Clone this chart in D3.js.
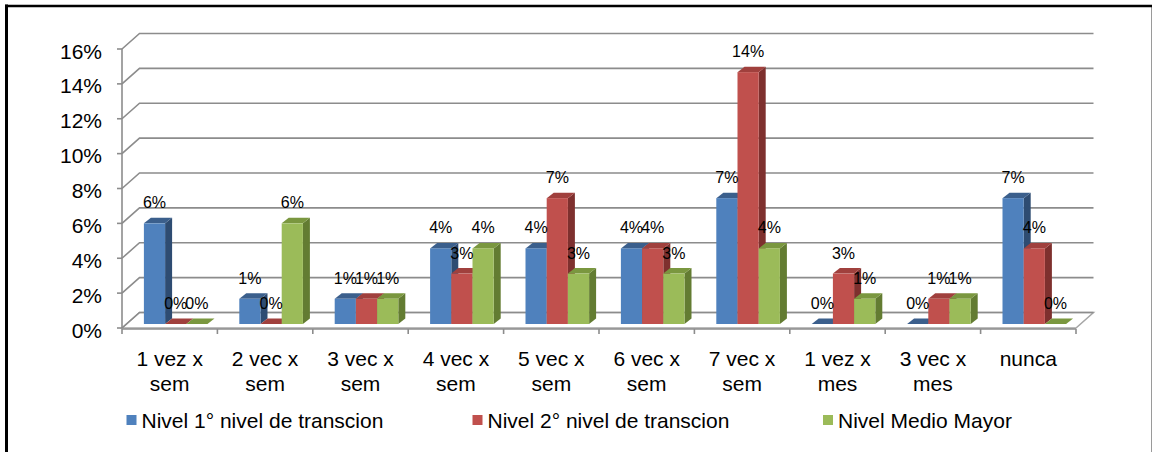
<!DOCTYPE html>
<html>
<head>
<meta charset="utf-8">
<script src="https://cdn.jsdelivr.net/npm/d3@7"></script>
<style>
  html, body { margin: 0; padding: 0; background: #fff; }
  svg { display: block; font-family: "Liberation Sans", Arial, sans-serif; }
</style>
</head>
<body>
<svg id="chart" width="1154" height="452"></svg>
<script>
// Frequency categories (x axis)
const categories = [
  "1 vez x sem", "2 vec x sem", "3 vec x sem", "4 vec x sem", "5 vec x sem",
  "6 vec x sem", "7 vec x sem", "1 vez x mes", "3 vec x mes", "nunca"
];
// Series names (legend)
const seriesNames = [
  "Nivel 1° nivel de transcion",
  "Nivel 2° nivel de transcion",
  "Nivel Medio Mayor"
];
// Share of students per category, one array per series
const nivel1 = [0.0571, 0.0143, 0.0143, 0.0429, 0.0429, 0.0429, 0.0714, 0, 0, 0.0714];
const nivel2 = [0, 0, 0.0143, 0.0286, 0.0714, 0.0429, 0.1429, 0.0286, 0.0143, 0.0429];
const medioMayor = [0, 0.0571, 0.0143, 0.0429, 0.0286, 0.0286, 0.0429, 0.0143, 0.0143, 0];
// Value axis ticks
const yTicks = [0, 0.02, 0.04, 0.06, 0.08, 0.10, 0.12, 0.14, 0.16];

const seriesValues = [nivel1, nivel2, medioMayor];
const palette = [
  { front: "#4F81BD", top: "#3B5F8C", side: "#2E4C72" },
  { front: "#C0504D", top: "#A0403D", side: "#7E302E" },
  { front: "#9BBB59", top: "#7A973F", side: "#637C32" }
];

const svg = d3.select("#chart");
const pct = d3.format(".0%");

// frame
svg.append("rect").attr("x", 7).attr("y", 6.5).attr("width", 1144.5).attr("height", 460)
  .attr("fill", "#fff").attr("stroke", "#9a9a9a").attr("stroke-width", 1);
svg.append("line").attr("x1", 6.5).attr("x2", 6.5).attr("y1", 4.5).attr("y2", 452)
  .attr("stroke", "#000").attr("stroke-width", 3);
svg.append("line").attr("x1", 5).attr("x2", 1152).attr("y1", 6).attr("y2", 6)
  .attr("stroke", "#000").attr("stroke-width", 2.5);

// plot geometry
const left = 122, right = 1076, floorY = 328;
const depthX = 17.5, depthY = 15.5;   // back wall offset
const barDX = 7, barDY = 5.5;         // bar depth (side / top faces)
const barShift = 6;                   // bars sit slightly behind the front edge

const x0 = d3.scaleBand().domain(categories).range([left, right]).paddingInner(0).paddingOuter(0);
const x1 = d3.scaleBand().domain(d3.range(seriesNames.length)).range([0, x0.bandwidth()])
  .paddingInner(0).paddingOuter(0.75);
// front-edge value scale (axis) and bar plane scale
const yAxisScale = d3.scaleLinear().domain([0, 0.16]).range([floorY, 49]);
const yBar = d3.scaleLinear().domain([0, 0.16]).range([324, 42]);

const gridColor = "#8c8c8c";

// floor
svg.append("path")
  .attr("d", `M${left},${floorY} L${right},${floorY} L${right + depthX},${floorY - depthY} L${left + depthX},${floorY - depthY} Z`)
  .attr("fill", "none").attr("stroke", "#a6a6a6").attr("stroke-width", 1.5);

// gridlines: diagonal on the side wall, then across the back wall
svg.append("g").selectAll("path").data(yTicks).join("path")
  .attr("d", t => {
    const y = yAxisScale(t);
    return `M${left},${y} L${left + depthX},${y - depthY} L${right + depthX},${y - depthY}`;
  })
  .attr("fill", "none").attr("stroke", gridColor).attr("stroke-width", 1.6);

// value axis
svg.append("line").attr("x1", left).attr("x2", left)
  .attr("y1", yAxisScale(0)).attr("y2", yAxisScale(0.16))
  .attr("stroke", gridColor).attr("stroke-width", 1.6);
svg.append("g").selectAll("line").data(yTicks).join("line")
  .attr("x1", left - 5).attr("x2", left)
  .attr("y1", d => yAxisScale(d)).attr("y2", d => yAxisScale(d))
  .attr("stroke", gridColor).attr("stroke-width", 1.6);
svg.append("g").selectAll("text").data(yTicks).join("text")
  .attr("x", 102).attr("y", d => yAxisScale(d) + 9.5)
  .attr("text-anchor", "end").attr("font-size", 21).attr("fill", "#000")
  .text(d => pct(d));

// category axis
svg.append("line").attr("x1", left).attr("x2", right)
  .attr("y1", floorY + 1).attr("y2", floorY + 1)
  .attr("stroke", gridColor).attr("stroke-width", 1.6);
const catEdges = categories.map(c => x0(c)).concat([right]);
svg.append("g").selectAll("line").data(catEdges).join("line")
  .attr("x1", d => d).attr("x2", d => d)
  .attr("y1", floorY + 1).attr("y2", floorY + 6)
  .attr("stroke", gridColor).attr("stroke-width", 1.6);

const catLabels = svg.append("g").selectAll("text").data(categories).join("text")
  .attr("text-anchor", "middle").attr("font-size", 21).attr("fill", "#000");
catLabels.each(function (c) {
  const m = c.match(/^(.* x) (.*)$/);
  const lines = m ? [m[1], m[2]] : [c];
  const cx = x0(c) + x0.bandwidth() / 2;
  d3.select(this).selectAll("tspan").data(lines).join("tspan")
    .attr("x", cx).attr("y", (d, i) => 365.5 + i * 25)
    .text(d => d);
});

// bars
const bars = [];
categories.forEach((c, ci) => {
  seriesValues.forEach((vals, si) => {
    bars.push({ cat: c, si, v: vals[ci] });
  });
});

const barG = svg.append("g");
bars.forEach(b => {
  const w = x1.bandwidth();
  const xl = x0(b.cat) + x1(b.si) + barShift;
  const yb = yBar(0);
  const yt = yBar(b.v);
  const col = palette[b.si];
  const g = barG.append("g");
  if (b.v > 0) {
    // side face
    g.append("path")
      .attr("d", `M${xl + w},${yb} L${xl + w},${yt} L${xl + w + barDX},${yt - barDY} L${xl + w + barDX},${yb - barDY} Z`)
      .attr("fill", col.side);
  }
  // top face
  g.append("path")
    .attr("d", `M${xl},${yt} L${xl + w},${yt} L${xl + w + barDX},${yt - barDY} L${xl + barDX},${yt - barDY} Z`)
    .attr("fill", col.top);
  if (b.v > 0) {
    // front face
    g.append("rect").attr("x", xl).attr("y", yt).attr("width", w).attr("height", yb - yt)
      .attr("fill", col.front);
  }
});

// value labels
svg.append("g").selectAll("text").data(bars).join("text")
  .attr("x", b => x0(b.cat) + x1(b.si) + barShift + x1.bandwidth() / 2)
  .attr("y", b => yBar(b.v) - barDY - 9.5)
  .attr("text-anchor", "middle").attr("font-size", 16).attr("fill", "#000")
  .text(b => pct(b.v));

// legend
const legendX = [126.5, 472.5, 823];
const legend = svg.append("g").selectAll("g").data(seriesNames).join("g")
  .attr("transform", (d, i) => `translate(${legendX[i]},0)`);
legend.append("rect").attr("x", 0).attr("y", 415).attr("width", 10).attr("height", 10)
  .attr("fill", (d, i) => palette[i].front);
legend.append("text").attr("x", 15).attr("y", 427.5).attr("font-size", 21).attr("fill", "#000")
  .text(d => d);
</script>
</body>
</html>
